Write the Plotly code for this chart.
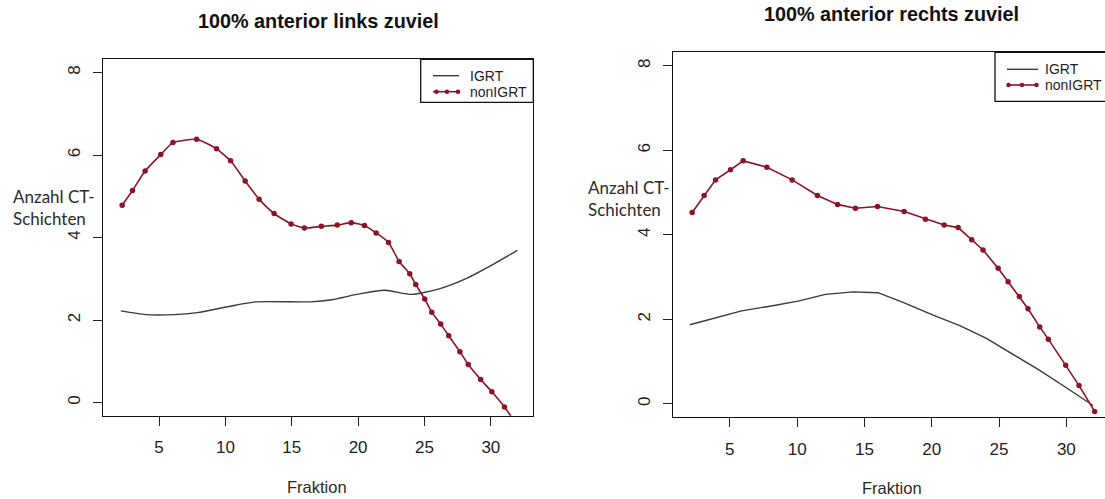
import plotly.graph_objects as go

# ---------------- data ----------------
left_non_x = [2.22, 3.0, 3.95, 5.13, 6.05, 7.83, 9.33, 10.39, 11.49, 12.54, 13.67, 14.95, 15.95,
              17.23, 18.43, 19.48, 20.48, 21.36, 22.29, 23.09, 23.89, 24.34, 25.02, 25.55, 26.22,
              26.83, 27.67, 28.3, 29.23, 30.08, 31.03, 32.0]
left_non_y = [4.78, 5.14, 5.61, 6.01, 6.30, 6.38, 6.15, 5.86, 5.37, 4.93, 4.58, 4.33, 4.23,
              4.27, 4.30, 4.36, 4.29, 4.11, 3.88, 3.42, 3.12, 2.86, 2.51, 2.19, 1.90,
              1.62, 1.23, 0.92, 0.56, 0.26, -0.11, -0.56]
left_igrt_x = [2.12, 4.0, 6.13, 7.88, 10.14, 12.27, 16.4, 18.03, 19.9, 22.03, 24.04, 26.05, 28.17, 30.17, 32.0]
left_igrt_y = [2.22, 2.13, 2.13, 2.18, 2.32, 2.44, 2.44, 2.49, 2.62, 2.72, 2.62, 2.75, 3.01, 3.35, 3.69]

right_non_x = [2.20, 3.09, 3.94, 5.05, 5.99, 7.75, 9.63, 11.51, 13.0, 14.33, 15.97, 17.95, 19.53,
               20.92, 21.96, 22.97, 23.81, 24.93, 25.67, 26.51, 27.15, 28.02, 28.66, 29.95, 30.94, 32.1]
right_non_y = [4.53, 4.93, 5.30, 5.54, 5.75, 5.60, 5.30, 4.93, 4.72, 4.63, 4.67, 4.55, 4.37,
               4.23, 4.17, 3.88, 3.64, 3.21, 2.89, 2.54, 2.25, 1.82, 1.53, 0.91, 0.43, -0.18]
right_igrt_x = [2.03, 5.87, 7.97, 10.07, 12.1, 14.16, 16.0, 17.87, 20.1, 22.08, 24.06, 26.04, 28.02, 30.0, 31.98]
right_igrt_y = [1.87, 2.20, 2.31, 2.43, 2.59, 2.65, 2.63, 2.40, 2.10, 1.85, 1.55, 1.18, 0.79, 0.38, -0.04]

x_ticks = [5, 10, 15, 20, 25, 30]
y_ticks = [0, 2, 4, 6, 8]
titles = ["100% anterior links zuviel", "100% anterior rechts zuviel"]
series_names = ["IGRT", "nonIGRT"]
y_title = "Anzahl CT-<br>Schichten"
x_title = "Fraktion"

# ---------------- style ----------------
W, H = 1105, 499
RED = "#8b1426"
GREY = "#3a3a3a"
TICKFONT = dict(family="Liberation Sans, Arial", size=17, color="#1e1e1e")


def px(x):
    return x / W


def py(y):
    return 1 - y / H


fig = go.Figure()

fig.add_trace(go.Scatter(x=left_igrt_x, y=left_igrt_y, mode="lines", name=series_names[0],
                         line=dict(color=GREY, width=1.4, shape="spline", smoothing=0.6),
                         xaxis="x", yaxis="y", showlegend=False))
fig.add_trace(go.Scatter(x=left_non_x, y=left_non_y, mode="lines+markers", name=series_names[1],
                         line=dict(color=RED, width=1.6, shape="spline", smoothing=0.5),
                         marker=dict(color=RED, size=5.5),
                         xaxis="x", yaxis="y", showlegend=False))
fig.add_trace(go.Scatter(x=right_igrt_x, y=right_igrt_y, mode="lines", name=series_names[0],
                         line=dict(color=GREY, width=1.4),
                         xaxis="x2", yaxis="y2", showlegend=False))
fig.add_trace(go.Scatter(x=right_non_x, y=right_non_y, mode="lines+markers", name=series_names[1],
                         line=dict(color=RED, width=1.6),
                         marker=dict(color=RED, size=5.5),
                         xaxis="x2", yaxis="y2", showlegend=False))

axis_common = dict(showgrid=False, zeroline=False, showline=True, linecolor="#111", linewidth=1.3,
                   ticks="outside", ticklen=9, tickwidth=1.1, tickcolor="#222", tickfont=TICKFONT)

fig.update_layout(
    width=W, height=H,
    margin=dict(l=0, r=0, t=0, b=0),
    paper_bgcolor="white", plot_bgcolor="white",
    xaxis=dict(domain=[px(103.3), px(533.3)], range=[0.8, 33.2], tickvals=x_ticks,
               mirror=True, anchor="y", ticklabelstandoff=7, **axis_common),
    yaxis=dict(domain=[py(415.7), py(59.3)], range=[-0.32, 8.32], tickvals=y_ticks,
               mirror=True, anchor="x", tickangle=-90, ticklabelstandoff=6, **axis_common),
    xaxis2=dict(domain=[px(673.3), 1.0], range=[0.8, 32.87], tickvals=x_ticks,
                mirror=True, anchor="y2", ticklabelstandoff=7, **axis_common),
    yaxis2=dict(domain=[py(417.3), py(52.3)], range=[-0.32, 8.32], tickvals=y_ticks,
                mirror=False, anchor="x2", tickangle=-90, ticklabelstandoff=6, **axis_common),
)

# titles
fig.add_annotation(text="<b>%s</b>" % titles[0], x=px(319), y=py(21), xref="paper", yref="paper",
                   xanchor="center", yanchor="middle", showarrow=False,
                   font=dict(family="Liberation Sans, Arial", size=19.8, color="#111"))
fig.add_annotation(text="<b>%s</b>" % titles[1], x=px(891.5), y=py(14.5), xref="paper", yref="paper",
                   xanchor="center", yanchor="middle", showarrow=False,
                   font=dict(family="Liberation Sans, Arial", size=19.8, color="#111"))

# x-axis titles
for cx, cy in [(317, 487), (891.7, 488)]:
    fig.add_annotation(text=x_title, x=px(cx), y=py(cy), xref="paper", yref="paper",
                       xanchor="center", yanchor="middle", showarrow=False,
                       font=dict(family="Liberation Sans, Arial", size=16.5, color="#2a2a2a"))

# y-axis titles
for lx, cy in [(11, 207), (586, 198.5)]:
    fig.add_annotation(text=y_title, x=px(lx), y=py(cy), xref="paper", yref="paper",
                       xanchor="left", yanchor="middle", align="left", showarrow=False,
                       font=dict(family="Lato, Open Sans", size=17, color="#2b2b2b"))

# manual legends (box + samples + text)
legends = [
    dict(box=(420.7, 59.3, 533.3, 102.3), lx0=433, lx1=459, y1=75.7, y2=91.7,
         dots=(436.5, 447, 458), tx=468),
    dict(box=(995, 52.3, 1120, 101.3), lx0=1007, lx1=1038, y1=69.3, y2=85.0,
         dots=(1008.5, 1022, 1036.5), tx=1043),
]
for lg in legends:
    x0, y0, x1, y1 = lg["box"]
    fig.add_shape(type="rect", xref="paper", yref="paper", x0=px(x0), x1=px(x1), y0=py(y1), y1=py(y0),
                  line=dict(color="#111", width=1.3), fillcolor="rgba(0,0,0,0)")
    fig.add_shape(type="line", xref="paper", yref="paper", x0=px(lg["lx0"]), x1=px(lg["lx1"]),
                  y0=py(lg["y1"]), y1=py(lg["y1"]), line=dict(color=GREY, width=1.4))
    fig.add_shape(type="line", xref="paper", yref="paper", x0=px(lg["lx0"]), x1=px(lg["lx1"]),
                  y0=py(lg["y2"]), y1=py(lg["y2"]), line=dict(color=RED, width=1.6))
    for d in lg["dots"]:
        fig.add_shape(type="circle", xref="paper", yref="paper", x0=px(d - 2.3), x1=px(d + 2.3),
                      y0=py(lg["y2"] + 2.3), y1=py(lg["y2"] - 2.3),
                      line=dict(color=RED, width=0), fillcolor=RED)
    for name, yy in zip(series_names, (lg["y1"], lg["y2"])):
        fig.add_annotation(text=name, x=px(lg["tx"]), y=py(yy), xref="paper", yref="paper",
                           xanchor="left", yanchor="middle", showarrow=False,
                           font=dict(family="Liberation Sans, Arial", size=14, color="#1e1e1e"))

fig.write_html("out.html")
